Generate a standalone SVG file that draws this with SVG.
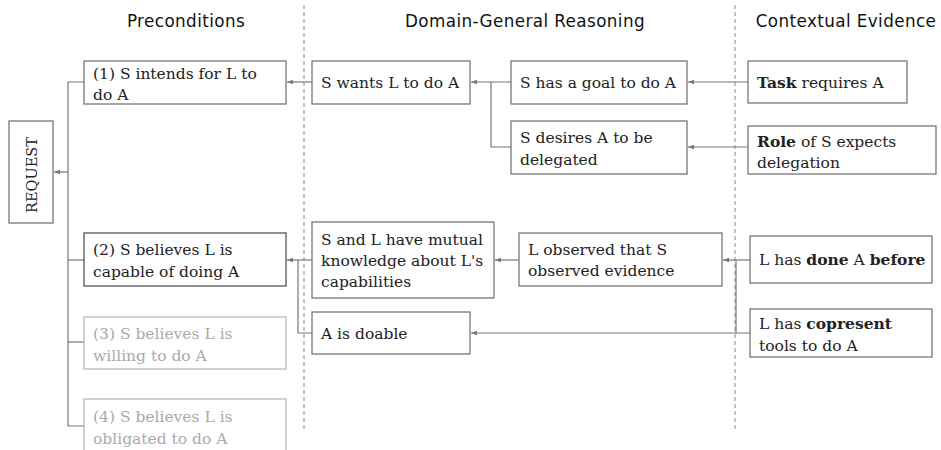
<svg xmlns="http://www.w3.org/2000/svg" width="941" height="450" viewBox="0 0 941 450">
<defs>
<marker id="ah" viewBox="0 0 6 6" refX="6" refY="3" markerWidth="6" markerHeight="6" markerUnits="userSpaceOnUse" orient="auto">
<path d="M0,0.8 L6,3 L0,5.2 z" fill="#777"/>
</marker>
<style>
.hdr{font-family:"DejaVu Sans",sans-serif;font-size:16.8px;letter-spacing:0.4px;fill:#111;text-anchor:middle}
.box{fill:#fff;stroke:#777;stroke-width:1.3}
.boxg{fill:#fff;stroke:#bbb;stroke-width:1.3}
.t{font-family:"DejaVu Serif",serif;font-size:15.5px;fill:#222}
.tg{font-family:"DejaVu Serif",serif;font-size:15.5px;fill:#aaa}
.b{font-weight:bold}
.ln{fill:none;stroke:#777;stroke-width:1.2}
.arr{fill:none;stroke:#777;stroke-width:1.2;marker-end:url(#ah)}
.dash{stroke:#888;stroke-width:1;stroke-dasharray:4,3}
</style>
</defs>
<rect width="941" height="450" fill="#fff"/>
<g id="headers">
<text class="hdr" x="186" y="27">Preconditions</text>
<text class="hdr" x="525" y="27">Domain-General Reasoning</text>
<text class="hdr" x="846" y="27">Contextual Evidence</text>
</g>
<g id="dividers">
<line class="dash" x1="304" y1="5" x2="304" y2="432"/>
<line class="dash" x1="735" y1="5" x2="735" y2="432"/>
</g>
<g id="connectors">
<polyline class="ln" points="84,82 68,82 68,426 84,426"/>
<line class="ln" x1="68" y1="260" x2="84" y2="260"/>
<line class="ln" x1="68" y1="342" x2="84" y2="342"/>
<line class="arr" x1="68" y1="172" x2="54" y2="172"/>
<line class="arr" x1="312" y1="82" x2="287" y2="82"/>
<line class="arr" x1="511" y1="82" x2="471" y2="82"/>
<polyline class="ln" points="511,147 491,147 491,82"/>
<line class="arr" x1="748" y1="82" x2="688" y2="82"/>
<line class="arr" x1="748" y1="147" x2="688" y2="147"/>
<line class="arr" x1="312" y1="260" x2="287" y2="260"/>
<polyline class="ln" points="312,333 298,333 298,260"/>
<line class="arr" x1="519" y1="260" x2="495" y2="260"/>
<line class="arr" x1="750" y1="260" x2="723" y2="260"/>
<polyline class="ln" points="736,260 736,333"/>
<line class="arr" x1="750" y1="333" x2="471" y2="333"/>
</g>
<g id="request">
<rect class="box" x="9" y="121" width="44" height="102"/>
<text class="t" style="font-size:14.5px" transform="translate(37,175) rotate(-90)" text-anchor="middle">REQUEST</text>
</g>
<g id="pre1">
<rect class="box" x="84" y="61" width="202" height="43"/>
<text class="t" x="93" y="79">(1) S intends for L to</text>
<text class="t" x="93" y="100">do A</text>
</g>
<g id="pre2">
<rect class="box" x="84" y="233" width="202" height="53" style="stroke:#555"/>
<text class="t" x="93" y="255">(2) S believes L is</text>
<text class="t" x="93" y="277">capable of doing A</text>
</g>
<g id="pre3">
<rect class="boxg" x="84" y="317" width="202" height="52"/>
<text class="tg" x="93" y="339">(3) S believes L is</text>
<text class="tg" x="93" y="361">willing to do A</text>
</g>
<g id="pre4">
<rect class="boxg" x="84" y="399" width="202" height="60"/>
<text class="tg" x="93" y="422">(4) S believes L is</text>
<text class="tg" x="93" y="444">obligated to do A</text>
</g>
<g id="wants">
<rect class="box" x="312" y="61" width="158" height="43"/>
<text class="t" x="321" y="88">S wants L to do A</text>
</g>
<g id="goal">
<rect class="box" x="511" y="61" width="176" height="43"/>
<text class="t" x="520" y="88">S has a goal to do A</text>
</g>
<g id="desires">
<rect class="box" x="511" y="121" width="176" height="53"/>
<text class="t" x="520" y="143">S desires A to be</text>
<text class="t" x="520" y="165">delegated</text>
</g>
<g id="task">
<rect class="box" x="748" y="61" width="159" height="42"/>
<text class="t" x="757" y="88"><tspan class="b">Task</tspan> requires A</text>
</g>
<g id="role">
<rect class="box" x="748" y="126" width="188" height="48"/>
<text class="t" x="757" y="147"><tspan class="b">Role</tspan> of S expects</text>
<text class="t" x="757" y="168">delegation</text>
</g>
<g id="mutual">
<rect class="box" x="312" y="222" width="182" height="76"/>
<text class="t" x="321" y="245">S and L have mutual</text>
<text class="t" x="321" y="266">knowledge about L's</text>
<text class="t" x="321" y="287">capabilities</text>
</g>
<g id="observed">
<rect class="box" x="519" y="233" width="203" height="53"/>
<text class="t" x="528" y="255">L observed that S</text>
<text class="t" x="528" y="276">observed evidence</text>
</g>
<g id="doable">
<rect class="box" x="312" y="312" width="158" height="42"/>
<text class="t" x="321" y="339">A is doable</text>
</g>
<g id="done">
<rect class="box" x="750" y="236" width="182" height="47"/>
<text class="t" x="759" y="265">L has <tspan class="b">done</tspan> A <tspan class="b">before</tspan></text>
</g>
<g id="tools">
<rect class="box" x="750" y="309" width="182" height="48"/>
<text class="t" x="759" y="329">L has <tspan class="b">copresent</tspan></text>
<text class="t" x="759" y="351">tools to do A</text>
</g>
</svg>
